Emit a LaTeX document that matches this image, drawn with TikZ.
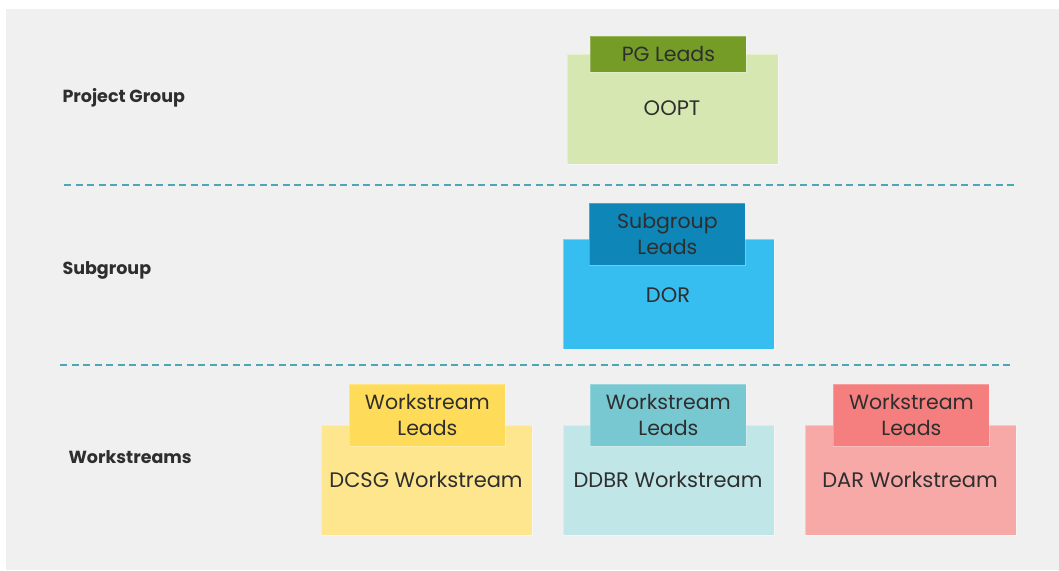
\documentclass[tikz,border=0pt]{standalone}
\usepackage{fontspec}
\setmainfont{Poppins}
\definecolor{panel}{HTML}{F0F0F0}
\definecolor{txt}{HTML}{2E2E2E}
\definecolor{sepcol}{HTML}{4BA7B5}
\definecolor{oomain}{HTML}{D7E7B1}
\definecolor{oolead}{HTML}{749C27}
\definecolor{dormain}{HTML}{37BEF0}
\definecolor{dorlead}{HTML}{0E87B8}
\definecolor{dcmain}{HTML}{FEE68E}
\definecolor{dclead}{HTML}{FEDC5A}
\definecolor{ddmain}{HTML}{C0E6E8}
\definecolor{ddlead}{HTML}{78C8D2}
\definecolor{damain}{HTML}{F7A9A8}
\definecolor{dalead}{HTML}{F47F7E}
\begin{document}
\begin{tikzpicture}[x=1pt,y=-1pt,
  mainbox/.style={draw=white,draw opacity=0.35,line width=0.8pt,minimum width=211pt,minimum height=110pt,inner sep=0pt,anchor=north west},
  leadbox/.style={draw=white,draw opacity=0.25,line width=0.8pt,minimum width=156pt,inner sep=0pt,anchor=north west,text=txt,font=\fontsize{20.5}{26}\selectfont,align=center},
  maintext/.style={text=txt,font=\fontsize{21}{24}\selectfont},
  rowlabel/.style={text=txt,font=\fontsize{17.5}{20}\selectfont\bfseries,anchor=west},
  sep/.style={draw=sepcol,line width=1.1pt,dash pattern=on 7pt off 4.5pt}]
\useasboundingbox (0,0) rectangle (1059,570);
\fill[panel] (6,9) rectangle (1059,570);
% separators
\coordinate (s1a) at (64,185); \coordinate (s1b) at (1017,185);
\coordinate (s2a) at (60,365); \coordinate (s2b) at (1013,365);
\draw[sep] (s1a) -- (s1b);
\draw[sep] (s2a) -- (s2b);
% row labels
\node[rowlabel] (lpg) at (59,98) {Project Group};
\node[rowlabel] (lsg) at (59,270) {Subgroup};
\node[rowlabel] (lws) at (65,457) {Workstreams};
% Project group
\node[mainbox,fill=oomain] (oopt) at (567,54) {};
\node[maintext] (oopttxt) at (672,108) {OOPT};
\node[leadbox,fill=oolead,minimum height=36pt] (pgl) at (590,36) {PG Leads};
% Subgroup
\node[mainbox,fill=dormain] (dor) at (563,239) {};
\node[maintext] (dortxt) at (668,295) {DOR};
\node[leadbox,fill=dorlead,minimum height=62pt] (sgl) at (589,203) {Subgroup\\Leads};
% Workstreams
\node[mainbox,fill=dcmain] (dcsg) at (321,425) {};
\node[maintext] (dcsgtxt) at (426,480) {DCSG Workstream};
\node[leadbox,fill=dclead,minimum height=62pt] (dcl) at (349,384) {Workstream\\Leads};
\node[mainbox,fill=ddmain] (ddbr) at (563,425) {};
\node[maintext] (ddbrtxt) at (668,480) {DDBR Workstream};
\node[leadbox,fill=ddlead,minimum height=62pt] (ddl) at (590,384) {Workstream\\Leads};
\node[mainbox,fill=damain] (dar) at (805,425) {};
\node[maintext] (dartxt) at (910,480) {DAR Workstream};
\node[leadbox,fill=dalead,minimum height=62pt] (dal) at (833,384) {Workstream\\Leads};
\end{tikzpicture}
\end{document}
